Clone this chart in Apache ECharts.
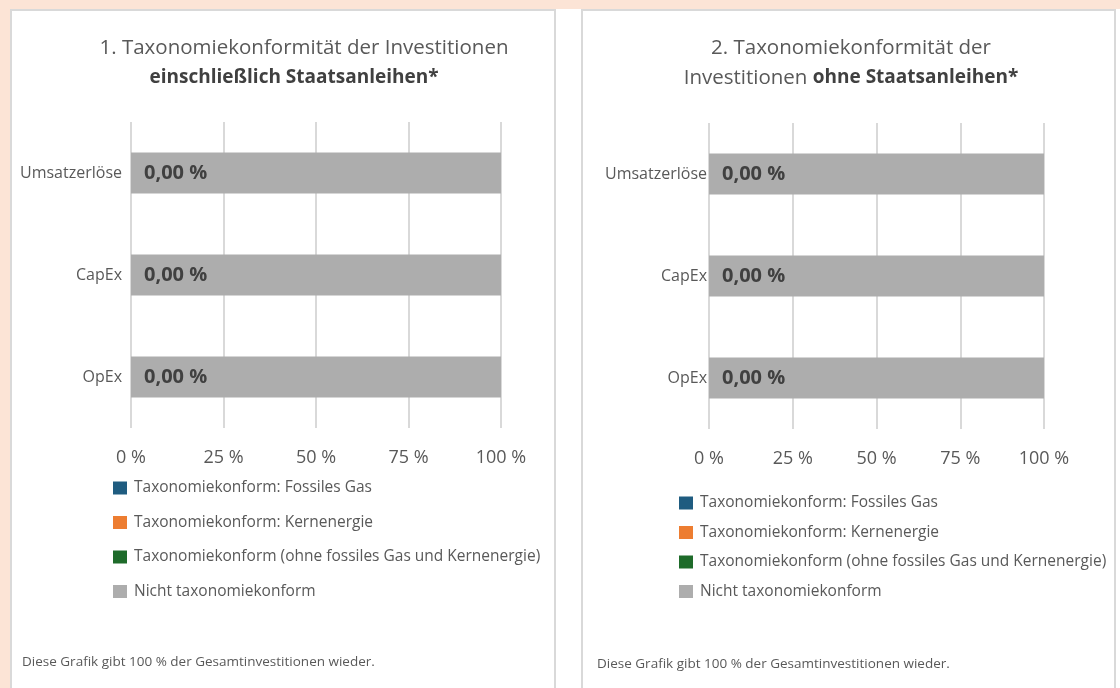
<!DOCTYPE html>
<html>
<head>
    <meta charset="UTF-8" />
    <title>Taxonomiekonformität</title>
    <script src="https://cdn.jsdelivr.net/npm/echarts@6/dist/echarts.min.js"></script>
    <style>
        html, body { margin: 0; padding: 0; background: #FCE4D6; }
        #main { width: 1120px; height: 688px; }
    </style>
</head>
<body>
<div id="main"></div>
<script>
    // Kategorien (von oben nach unten)
    var categories = ['Umsatzerlöse', 'CapEx', 'OpEx'];
    var xTicks = [0, 25, 50, 75, 100];

    // 1. einschließlich Staatsanleihen
    var gas1 = [0, 0, 0];
    var nuclear1 = [0, 0, 0];
    var aligned1 = [0, 0, 0];
    var notAligned1 = [100, 100, 100];

    // 2. ohne Staatsanleihen
    var gas2 = [0, 0, 0];
    var nuclear2 = [0, 0, 0];
    var aligned2 = [0, 0, 0];
    var notAligned2 = [100, 100, 100];

    var names = [
        'Taxonomiekonform: Fossiles Gas',
        'Taxonomiekonform: Kernenergie',
        'Taxonomiekonform (ohne fossiles Gas und Kernenergie)',
        'Nicht taxonomiekonform'
    ];
    var colors = ['#1F5C80', '#ED7D31', '#1E6B2A', '#ADADAD'];

    var FONT = 'Open Sans';
    var TXT = '#595959';

    function pct(v) {
        return v.toFixed(2).replace('.', ',') + ' %';
    }

    function makeSeries(idx, stack, arrs) {
        var out = [];
        arrs.forEach(function (arr, k) {
            var s = {
                name: names[k],
                type: 'bar',
                stack: stack,
                xAxisIndex: idx,
                yAxisIndex: idx,
                barWidth: 41,
                itemStyle: { color: colors[k] },
                data: arr
            };
            if (k === 3) {
                s.label = {
                    show: true,
                    position: 'insideLeft',
                    distance: 13,
                    fontFamily: FONT,
                    fontWeight: 'bold',
                    fontSize: 20,
                    color: '#404040',
                    formatter: function (p) {
                        var i = p.dataIndex;
                        return pct(arrs[0][i] + arrs[1][i] + arrs[2][i]);
                    }
                };
            }
            out.push(s);
        });
        return out;
    }

    function xAxis(idx) {
        return {
            type: 'value',
            gridIndex: idx,
            min: xTicks[0],
            max: xTicks[xTicks.length - 1],
            interval: 25,
            axisLine: { show: false },
            axisTick: { show: false },
            splitLine: { lineStyle: { color: '#D9D9D9', width: 2 } },
            axisLabel: {
                margin: 21,
                fontFamily: FONT,
                fontSize: 18,
                color: TXT,
                formatter: '{value} %'
            }
        };
    }

    function yAxis(idx, margin) {
        return {
            type: 'category',
            gridIndex: idx,
            inverse: true,
            data: categories,
            axisLine: { show: false },
            axisTick: { show: false },
            axisLabel: { margin: margin, fontFamily: FONT, fontSize: 16, color: TXT }
        };
    }

    function legend(left, top, gap) {
        return {
            orient: 'vertical',
            left: left,
            top: top,
            padding: 0,
            icon: 'rect',
            itemWidth: 14,
            itemHeight: 13,
            itemGap: gap,
            selectedMode: false,
            data: names,
            textStyle: { fontFamily: FONT, fontSize: 15.5, color: TXT, lineHeight: 18, padding: [0, 0, 0, 2] }
        };
    }

    var titleRich = {
        n: { fontFamily: FONT, fontSize: 20.5, fontWeight: 'normal', color: TXT, lineHeight: 30 },
        b: { fontFamily: FONT, fontSize: 19, fontWeight: 'bold', color: '#404040', lineHeight: 30 },
        b2: { fontFamily: FONT, fontSize: 19, fontWeight: 'bold', color: '#404040', lineHeight: 30, padding: [0, 20, 0, 0] }
    };

    var chart = echarts.init(document.getElementById('main'));
    chart.setOption({
        animation: false,
        backgroundColor: '#FCE4D6',
        graphic: [
            { type: 'rect', shape: { x: 10, y: 9, width: 1110, height: 679 }, style: { fill: '#FFFFFF' }, z: -10 },
            { type: 'rect', shape: { x: 11, y: 10, width: 544, height: 690 }, style: { fill: '#FFFFFF', stroke: '#D9D9D9', lineWidth: 2 }, z: -9 },
            { type: 'rect', shape: { x: 582, y: 10, width: 533, height: 690 }, style: { fill: '#FFFFFF', stroke: '#D9D9D9', lineWidth: 2 }, z: -9 },
            { type: 'text', left: 22, top: 655, style: { text: 'Diese Grafik gibt 100 % der Gesamtinvestitionen wieder.', font: '13.5px "Open Sans"', fill: TXT } },
            { type: 'text', left: 597, top: 657, style: { text: 'Diese Grafik gibt 100 % der Gesamtinvestitionen wieder.', font: '13.5px "Open Sans"', fill: TXT } }
        ],
        title: [
            {
                left: 299, top: 28, textAlign: 'center',
                text: '{n|1. Taxonomiekonformität der Investitionen}\n{b2|einschließlich Staatsanleihen*}',
                textStyle: { rich: titleRich }
            },
            {
                left: 846, top: 28, textAlign: 'center',
                text: '{n|2. Taxonomiekonformität der}\n{n|Investitionen }{b|ohne Staatsanleihen*}',
                textStyle: { rich: titleRich }
            }
        ],
        legend: [legend(113, 479, 16.5), legend(679, 494, 11.5)],
        grid: [
            { left: 131, top: 122, width: 370, height: 306 },
            { left: 709, top: 123, width: 335, height: 306 }
        ],
        xAxis: [xAxis(0), xAxis(1)],
        yAxis: [yAxis(0, 9), yAxis(1, 2)],
        series: makeSeries(0, 's1', [gas1, nuclear1, aligned1, notAligned1])
            .concat(makeSeries(1, 's2', [gas2, nuclear2, aligned2, notAligned2]))
    });
</script>
</body>
</html>
